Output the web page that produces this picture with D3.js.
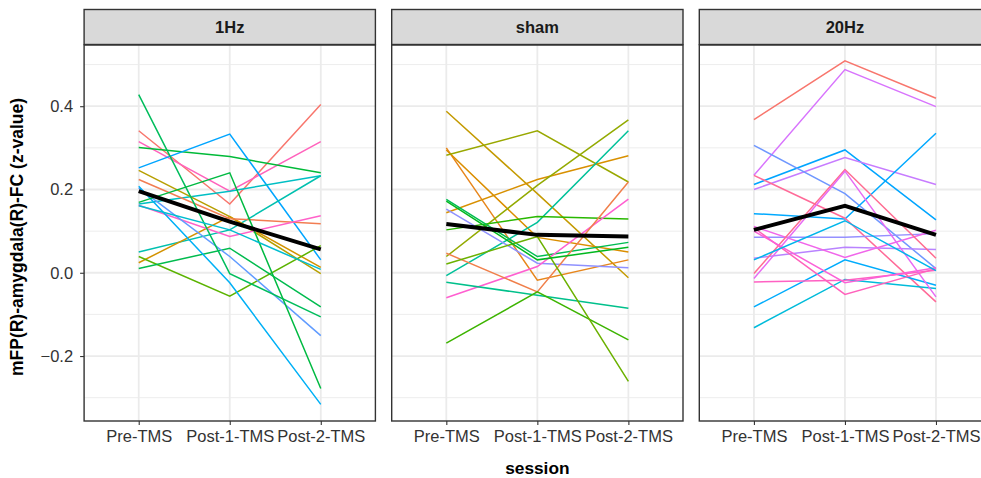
<!DOCTYPE html>
<html lang="en">
    <head>
        <meta charset="utf-8">
        <title>mFP-amygdala FC by session</title>
        <script type="text/javascript" src="https://cdn.jsdelivr.net/npm/d3@7/dist/d3.min.js"></script>
        <style>
            body { margin: 0; background: #ffffff; }
            text { font-family: "Liberation Sans", Arial, Helvetica, sans-serif; }
        </style>
    </head>
    <body>
        <script type="text/javascript">
            // data
            var sessions = ["Pre-TMS", "Post-1-TMS", "Post-2-TMS"];
            var conditions = ["1Hz", "sham", "20Hz"];
            var yTicks = [-0.2, 0.0, 0.2, 0.4];
            var yMinor = [-0.3, -0.1, 0.1, 0.3, 0.5];

            var lines1Hz = [
                [0.341, 0.165, 0.404],
                [0.315, 0.196, 0.315],
                [0.301, 0.279, 0.240],
                [0.252, 0.333, 0.031],
                [0.165, 0.196, 0.233],
                [0.050, 0.103, 0.233],
                [0.246, 0.135, -0.002],
                [0.024, 0.135, 0.013],
                [0.224, 0.130, 0.118],
                [0.039, -0.056, 0.065],
                [0.162, 0.087, 0.137],
                [0.010, 0.059, -0.082],
                [0.204, 0.039, -0.151],
                [0.208, -0.024, -0.316],
                [0.428, -0.002, -0.106],
                [0.169, 0.240, -0.278],
                [0.161, 0.103, 0.008]
            ];
            var linesSham = [
                [0.388, 0.190, -0.012],
                [0.300, -0.018, 0.031],
                [0.295, 0.085, 0.050],
                [0.282, 0.341, 0.218],
                [0.144, 0.224, 0.281],
                [0.039, 0.210, 0.367],
                [-0.007, 0.121, 0.341],
                [0.103, 0.135, 0.129],
                [0.176, 0.039, 0.073],
                [0.153, 0.023, 0.012],
                [-0.060, 0.015, 0.177],
                [0.047, -0.046, 0.218],
                [-0.023, -0.054, -0.085],
                [-0.169, -0.046, -0.161],
                [0.021, 0.087, -0.261],
                [0.172, 0.031, 0.061]
            ];
            var lines20Hz = [
                [0.368, 0.509, 0.419],
                [0.234, 0.488, 0.399],
                [0.212, 0.295, 0.127],
                [0.200, 0.277, 0.212],
                [0.306, 0.190, 0.010],
                [0.142, 0.129, 0.335],
                [0.234, 0.131, -0.070],
                [0.085, 0.085, 0.094],
                [0.035, 0.061, 0.056],
                [0.111, 0.037, 0.102],
                [-0.082, 0.031, -0.030],
                [-0.132, -0.016, -0.038],
                [-0.022, -0.018, 0.006],
                [-0.002, 0.248, 0.035],
                [-0.014, 0.244, -0.058],
                [0.108, -0.052, 0.010],
                [0.100, -0.024, 0.012],
                [0.031, 0.125, 0.005]
            ];
            var meanLines = [
                [0.196, 0.123, 0.056],
                [0.117, 0.091, 0.087],
                [0.103, 0.161, 0.091]
            ];

            // subject colours (ggplot hue palette, picked by eye)
            var colors1Hz = ["#F8766D", "#FF62BC", "#00BA38", "#00A5FF", "#00BFC4", "#00C0AF",
                "#B79F00", "#D39200", "#F27D52", "#5BB300", "#FF61C9", "#00BB4E",
                "#619CFF", "#00B0F6", "#00BD5C", "#00BA42", "#00BDD0"];
            var colorsSham = ["#C49A00", "#E7861B", "#DB8E00", "#99A800", "#D89000", "#93AA00",
                "#00C19A", "#28B800", "#00BC52", "#8F91FF", "#FF5FD0", "#F07F4A",
                "#00C08B", "#3DB400", "#6BB100", "#00B81F"];
            var colors20Hz = ["#F8766D", "#D874FD", "#00A5FF", "#C77CFF", "#6F97FF", "#00A9FF",
                "#FF6A98", "#9590FF", "#B983FF", "#F066EA", "#00ACFC", "#00BBDA",
                "#FF61C3", "#FF6C91", "#E76BF3", "#FF62BC", "#FB61D7", "#00B6EB"];

            var panelLines = [lines1Hz, linesSham, lines20Hz];
            var panelColors = [colors1Hz, colorsSham, colors20Hz];

            var w = 981;
            var h = 478;
            var panelLeft = 84.1;
            var panelW = 291.3;
            var panelGap = 16.3;
            var panelTop = 45;
            var panelBottom = 421;
            var stripTop = 9.5;

            var svg = d3.select("body")
                .append("svg")
                .attr("width", w)
                .attr("height", h);

            var yScale = d3.scaleLinear()
                .domain([-0.356, 0.547])
                .range([panelBottom, panelTop]);

            var line = d3.line();

            conditions.forEach(function(cond, p) {
                var x0 = panelLeft + p * (panelW + panelGap);
                var xScale = d3.scalePoint()
                    .domain(sessions)
                    .range([x0, x0 + panelW])
                    .padding(0.6);

                var g = svg.append("g");

                // grid
                g.selectAll(".minor")
                    .data(yMinor)
                    .enter()
                    .append("line")
                    .attr("x1", x0).attr("x2", x0 + panelW)
                    .attr("y1", function(d) { return yScale(d); })
                    .attr("y2", function(d) { return yScale(d); })
                    .attr("stroke", "#EBEBEB")
                    .attr("stroke-width", 0.9);
                g.selectAll(".major")
                    .data(yTicks)
                    .enter()
                    .append("line")
                    .attr("x1", x0).attr("x2", x0 + panelW)
                    .attr("y1", function(d) { return yScale(d); })
                    .attr("y2", function(d) { return yScale(d); })
                    .attr("stroke", "#EBEBEB")
                    .attr("stroke-width", 1.8);
                g.selectAll(".vgrid")
                    .data(sessions)
                    .enter()
                    .append("line")
                    .attr("x1", function(d) { return xScale(d); })
                    .attr("x2", function(d) { return xScale(d); })
                    .attr("y1", panelTop).attr("y2", panelBottom)
                    .attr("stroke", "#EBEBEB")
                    .attr("stroke-width", 1.8);

                // subject lines
                var cols = panelColors[p];
                g.selectAll(".subj")
                    .data(panelLines[p])
                    .enter()
                    .append("path")
                    .attr("d", function(d) {
                        return line(d.map(function(v, i) { return [xScale(sessions[i]), yScale(v)]; }));
                    })
                    .attr("fill", "none")
                    .attr("stroke", function(d, i) { return cols[i]; })
                    .attr("stroke-width", 1.5);

                // mean line
                g.append("path")
                    .attr("d", line(meanLines[p].map(function(v, i) { return [xScale(sessions[i]), yScale(v)]; })))
                    .attr("fill", "none")
                    .attr("stroke", "#000000")
                    .attr("stroke-width", 4);

                // panel border
                g.append("rect")
                    .attr("x", x0).attr("y", panelTop)
                    .attr("width", panelW).attr("height", panelBottom - panelTop)
                    .attr("fill", "none")
                    .attr("stroke", "#333333")
                    .attr("stroke-width", 1.4);

                // strip
                g.append("rect")
                    .attr("x", x0).attr("y", stripTop)
                    .attr("width", panelW).attr("height", panelTop - stripTop - 0.5)
                    .attr("fill", "#D9D9D9")
                    .attr("stroke", "#333333")
                    .attr("stroke-width", 1.4);
                g.append("text")
                    .text(cond)
                    .attr("x", x0 + panelW / 2)
                    .attr("y", (stripTop + panelTop) / 2 + 6)
                    .attr("text-anchor", "middle")
                    .attr("font-size", "16.5px")
                    .attr("font-weight", "bold")
                    .attr("fill", "#1A1A1A");

                // x axis
                var xAxis = d3.axisBottom(xScale).tickSize(4).tickPadding(5);
                var ax = g.append("g")
                    .attr("transform", "translate(0," + panelBottom + ")")
                    .call(xAxis);
                ax.select(".domain").remove();
                ax.selectAll("line").attr("stroke", "#333333").attr("stroke-width", 1.1);
                ax.selectAll("text")
                    .attr("font-size", "16.5px")
                    .attr("font-family", "'Liberation Sans', Arial, sans-serif")
                    .attr("fill", "#333333");
            });

            // y axis
            var yAxis = d3.axisLeft(yScale)
                .tickValues(yTicks)
                .tickFormat(d3.format(".1f"))
                .tickSize(4)
                .tickPadding(7);
            var ay = svg.append("g")
                .attr("transform", "translate(" + panelLeft + ",0)")
                .call(yAxis);
            ay.select(".domain").remove();
            ay.selectAll("line").attr("stroke", "#333333").attr("stroke-width", 1.1);
            ay.selectAll("text")
                .attr("font-size", "16.5px")
                .attr("font-family", "'Liberation Sans', Arial, sans-serif")
                .attr("fill", "#333333");

            // axis titles
            svg.append("text")
                .text("session")
                .attr("x", panelLeft + (3 * panelW + 2 * panelGap) / 2)
                .attr("y", 474)
                .attr("text-anchor", "middle")
                .attr("font-size", "17.3px")
                .attr("font-weight", "bold")
                .attr("fill", "#000000");
            svg.append("text")
                .text("mFP(R)-amygdala(R)-FC (z-value)")
                .attr("transform", "translate(23," + ((panelTop + panelBottom) / 2 + 4) + ") rotate(-90)")
                .attr("text-anchor", "middle")
                .attr("font-size", "17.5px")
                .attr("font-weight", "bold")
                .attr("fill", "#000000");
        </script>
    </body>
</html>
